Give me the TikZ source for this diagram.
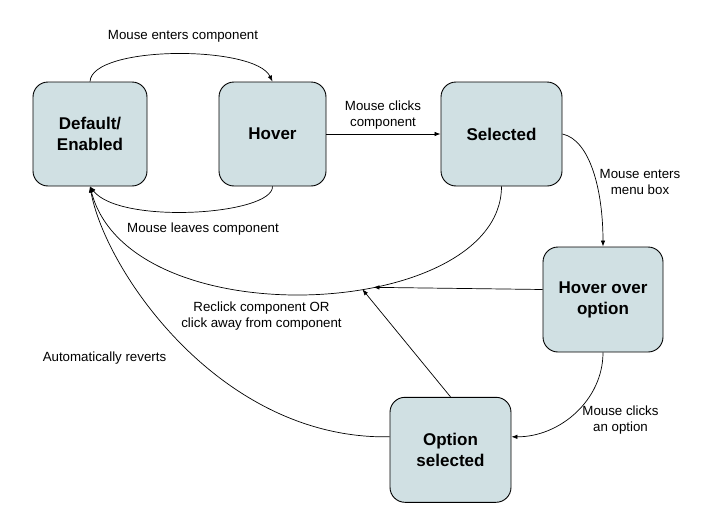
\documentclass[tikz,border=0pt]{standalone}
\usepackage{fontspec}
\setmainfont{Liberation Sans}
\usetikzlibrary{arrows.meta}
\definecolor{statefill}{RGB}{208,224,227}

\begin{document}
\begin{tikzpicture}[x=1pt, y=-1pt,
        state/.style = {draw, fill = statefill, rounded corners = 15pt, line width = 0.9pt, align = center, font = \bfseries\fontsize{17}{21}\selectfont},
        trans/.style = {-{Latex[length = 6pt, width = 4.5pt]}, line width = 0.7pt},
        lbl/.style = {align = center, font = \fontsize{13.3}{16}\selectfont}]
        \useasboundingbox (0, 0) rectangle (713, 525);
        \node[state, minimum width = 114pt, minimum height = 104pt] (default) at (90, 134) {Default/\\Enabled};
        \node[state, minimum width = 107pt, minimum height = 104pt] (hover) at (272.5, 134) {Hover};
        \node[state, minimum width = 121pt, minimum height = 104pt] (selected) at (501.5, 134) {Selected};
        \node[state, minimum width = 120pt, minimum height = 105pt] (hoveropt) at (603, 299.5) {Hover over\\option};
        \node[state, minimum width = 121pt, minimum height = 105pt] (optsel) at (450.5, 449.8) {Option\\selected};
        \draw[trans] (default.north) .. controls (92, 45) and (255, 45) .. (hover.north);
        \draw[trans] (hover.south) .. controls (273, 215) and (120, 225) .. (default.south);
        \draw[trans] (hover.east) -- (selected.west);
        \draw[trans] (selected.east) .. controls (590, 140) and (603, 190) .. (hoveropt.north);
        \draw[trans] (selected.south) .. controls (501, 320) and (130, 340) .. (default.south) coordinate[pos = 0.39] (back1) coordinate[pos = 0.41] (back2);
        \draw[trans] ([yshift = 10pt]hoveropt.west) -- (back1);
        \draw[trans] (optsel.north) -- (back2);
        \draw[trans] (hoveropt.south) .. controls (603, 400) and (560, 437) .. ([yshift = 13pt]optsel.east);
        \draw[trans] ([yshift = 13pt]optsel.west) .. controls (220, 440) and (105, 270) .. (default.south);
        \node[lbl] (enterlbl) at (183, 36) {Mouse enters component};
        \node[lbl] (leavelbl) at (203, 229) {Mouse leaves component};
        \node[lbl] (clicklbl) at (383, 115) {Mouse clicks\\component};
        \node[lbl] (menulbl) at (640, 182) {Mouse enters\\menu box};
        \node[lbl] (reclicklbl) at (261.5, 316.5) {Reclick component OR\\click away from component};
        \node[lbl] (revertlbl) at (104.5, 358) {Automatically reverts};
        \node[lbl] (optionlbl) at (620.5, 420) {Mouse clicks\\an option};
    \end{tikzpicture}
\end{document}
